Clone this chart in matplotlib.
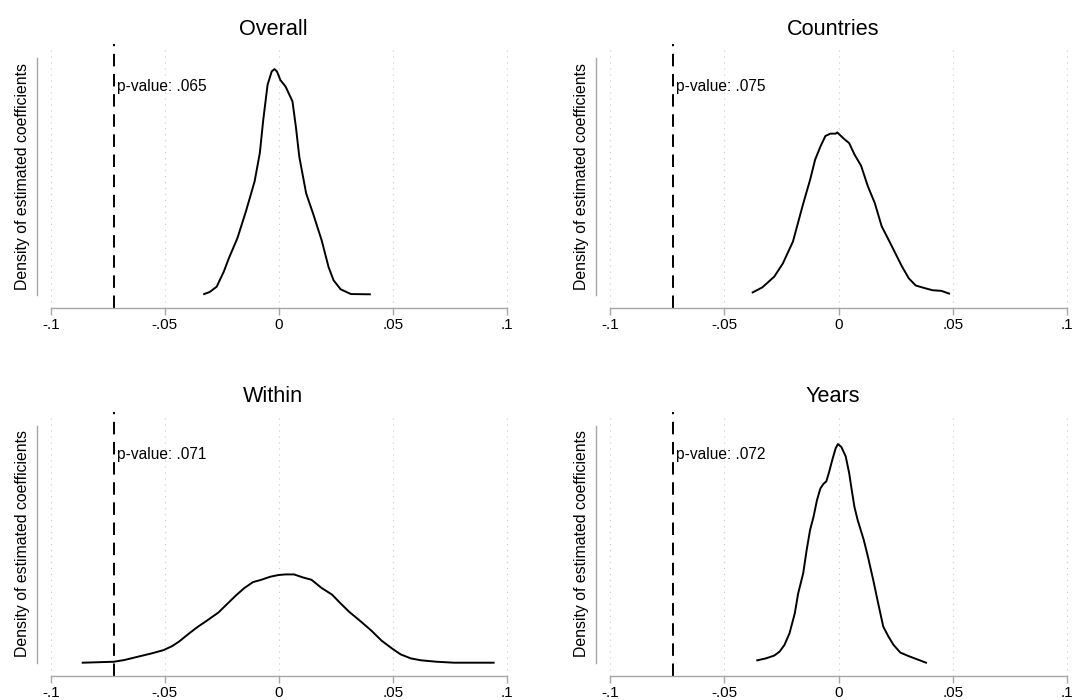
import matplotlib
matplotlib.use('Agg')
import matplotlib.pyplot as plt

plt.rcParams['font.family'] = ['Liberation Sans', 'DejaVu Sans']
plt.rcParams['lines.scale_dashes'] = False

# permutation-test densities (x = coefficient, y = density)
overall_x = [-0.0328, -0.0303, -0.0273, -0.0242, -0.0220, -0.0182, -0.0145, -0.0107,
             -0.0084, -0.0069, -0.0050, -0.0032, -0.0020, -0.0009, 0.0006, 0.0029,
             0.0059, 0.0074, 0.0089, 0.0119, 0.0149, 0.0187, 0.0217, 0.0239, 0.0270,
             0.0315, 0.0398]
overall_y = [0.2, 0.65, 1.75, 4.9, 7.7, 12.0, 17.6, 23.9, 29.9, 36.9, 44.3, 47.1,
             47.6, 47.1, 45.3, 43.9, 40.8, 35.4, 29.1, 21.4, 17.2, 11.5, 5.9, 3.1,
             1.2, 0.2, 0.15]

countries_x = [-0.0376, -0.0334, -0.0282, -0.0244, -0.0200, -0.0155, -0.0125, -0.0103,
               -0.0080, -0.0058, -0.0036, -0.0013, -0.0006, 0.0024, 0.0046, 0.0069,
               0.0098, 0.0128, 0.0158, 0.0188, 0.0225, 0.0277, 0.0307, 0.0337, 0.0382,
               0.0411, 0.0449, 0.0483]
countries_y = [0.44, 1.28, 3.08, 5.32, 9.0, 15.4, 19.4, 22.8, 25.0, 26.8, 27.2, 27.2,
               27.4, 26.3, 25.6, 23.7, 21.8, 18.3, 15.5, 11.6, 8.8, 4.8, 2.8, 1.6, 1.1,
               0.8, 0.7, 0.24]

within_x = [-0.0860, -0.0724, -0.0679, -0.0619, -0.0559, -0.0506, -0.0468, -0.0438,
            -0.0393, -0.0355, -0.0318, -0.0265, -0.0227, -0.0190, -0.0152, -0.0114,
            -0.0077, -0.0039, -0.0002, 0.0029, 0.0066, 0.0104, 0.0142, 0.0187, 0.0232,
            0.0270, 0.0307, 0.0360, 0.0405, 0.0450, 0.0495, 0.0533, 0.0578, 0.0623,
            0.0691, 0.0767, 0.0842, 0.0940]
within_y = [0.0, 0.16, 0.44, 1.0, 1.56, 2.12, 2.8, 3.56, 4.96, 6.08, 7.04, 8.48, 9.92,
            11.3, 12.6, 13.6, 14.0, 14.5, 14.8, 14.9, 14.9, 14.4, 14.0, 12.6, 11.5,
            10.0, 8.6, 6.9, 5.4, 3.7, 2.4, 1.4, 0.72, 0.4, 0.16, 0.0, 0.0, 0.0]

years_x = [-0.0356, -0.0319, -0.0282, -0.0259, -0.0237, -0.0215, -0.0192, -0.0177,
           -0.0155, -0.0140, -0.0125, -0.0110, -0.0095, -0.0080, -0.0066, -0.0054,
           -0.0043, -0.0028, -0.0013, -0.0003, 0.0012, 0.0031, 0.0046, 0.0057, 0.0069,
           0.0083, 0.0110, 0.0128, 0.0151, 0.0173, 0.0195, 0.0218, 0.0240, 0.0270,
           0.0307, 0.0344, 0.0382]
years_y = [0.4, 0.72, 1.2, 1.84, 3.0, 4.96, 8.3, 11.7, 15.1, 19.0, 22.4, 24.6, 27.4,
           29.4, 30.2, 30.6, 32.0, 34.2, 36.2, 36.9, 36.4, 34.8, 32.0, 29.2, 26.3,
           24.1, 20.7, 17.9, 14.0, 10.0, 6.1, 4.4, 3.0, 1.7, 1.1, 0.56, 0.0]

titles = ['Overall', 'Countries', 'Within', 'Years']
p_values = ['.065', '.075', '.071', '.072']
y_max = [50, 40, 40, 40]
observed_coef = -0.0723
x_ticks = [-0.1, -0.05, 0, 0.05, 0.1]
x_tick_labels = ['-.1', '-.05', '0', '.05', '.1']

series = [(overall_x, overall_y), (countries_x, countries_y),
          (within_x, within_y), (years_x, years_y)]

W, H = 1075, 700
# pixel geometry per panel: (y-axis x, x=-.1 px, x=.1 px, y=0 px, y=max px, x-axis y, top)
panels = [
    (37.2, 50.7, 507.3, 295, 57.7, 308.3, 44.3),
    (596.3, 610.0, 1067.3, 295, 57.7, 308.3, 44.3),
    (37.2, 50.7, 507.3, 662.7, 425.7, 676, 411.7),
    (596.3, 610.0, 1067.3, 662.7, 425.7, 676, 411.7),
]

GRAY = '#a6a6a6'

fig = plt.figure(figsize=(W / 100, H / 100), dpi=100)

for i, (px_axis, px_lo, px_hi, py0, pymax, py_axis, py_top) in enumerate(panels):
    scale = (px_hi - px_lo) / 0.2
    x_left = -0.1 - (px_lo - px_axis) / scale
    x_right = 0.1 + 2 / scale
    ymax = y_max[i]
    yscale = (py0 - pymax) / ymax
    y_bottom = -(py_axis - py0) / yscale
    y_top = ymax + (pymax - py_top) / yscale

    right_px = px_hi + 2
    ax = fig.add_axes([px_axis / W, 1 - py_axis / H,
                       (right_px - px_axis) / W, (py_axis - py_top) / H])
    ax.set_xlim(x_left, x_right)
    ax.set_ylim(y_bottom, y_top)

    # dotted grid at the x ticks
    grid_top = ymax + (pymax - (py_top + 5)) / yscale
    ax.vlines(x_ticks, y_bottom, grid_top, colors='#c8c8c8',
              linestyles=(0, (0.8, 3.5)), linewidth=0.8, zorder=1)

    xs, ys = series[i]
    ax.plot(xs, ys, color='black', linewidth=1.4, zorder=3)

    ax.axvline(observed_coef, color='black', linewidth=1.4,
               dashes=(9.0, 5.5), zorder=2)
    ax.text(observed_coef + 0.0012, ymax * 0.88, 'p-value: ' + p_values[i],
            fontsize=11.2, ha='left', va='center')

    ax.set_title(titles[i], fontsize=15.6, pad=7)
    ax.set_ylabel('Density of estimated coefficients', fontsize=11.4, labelpad=5)

    for side in ['top', 'right']:
        ax.spines[side].set_visible(False)
    ax.spines['left'].set_bounds(0, ymax)
    ax.spines['bottom'].set_bounds(-0.1, 0.1)
    for side in ['left', 'bottom']:
        ax.spines[side].set_color(GRAY)
        ax.spines[side].set_linewidth(1.0)

    ax.set_yticks([])
    ax.set_xticks(x_ticks)
    ax.set_xticklabels(x_tick_labels, fontsize=11)
    ax.tick_params(axis='x', length=4.7, width=1.0, color=GRAY, pad=2.5)

fig.savefig('out.png', dpi=100, facecolor='white')
